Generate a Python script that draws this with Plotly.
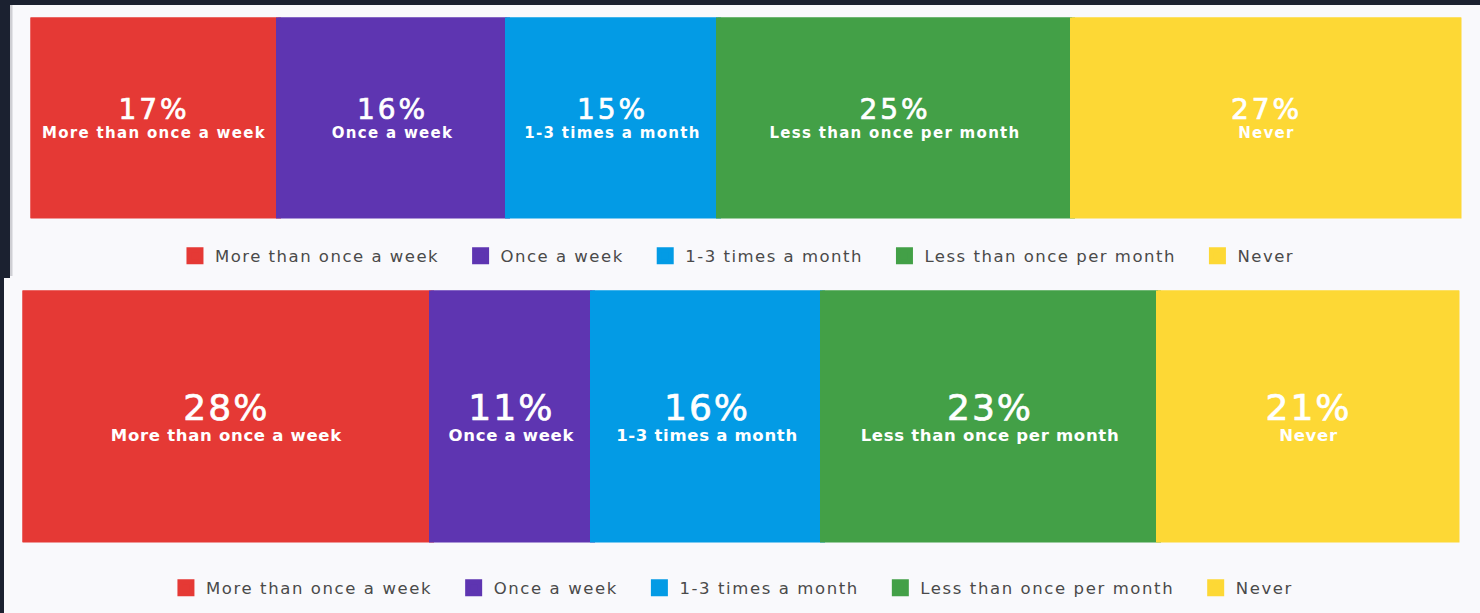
import plotly.graph_objects as go

categories = ["More than once a week", "Once a week", "1-3 times a month",
              "Less than once per month", "Never"]
top_values = [17.3, 16.0, 14.8, 24.7, 27.2]
bottom_values = [28.4, 11.2, 16.0, 23.4, 20.9]
colors = ["#e53935", "#5e35b1", "#039be5", "#43a047", "#fdd835"]

W, H = 1480, 613
FONT = "DejaVu Sans, Verdana, sans-serif"


def bar_text(pct_size, pct_ls, lab_ls):
    return (f"<span style='font-size:{pct_size}px;font-weight:normal;letter-spacing:{pct_ls}px;"
            "stroke:white;stroke-width:0.7px'>"
            "%{x:.0f}%</span><br>"
            f"<span style='letter-spacing:{lab_ls}px'>%{{customdata}}</span>")


def legend_name(cat, ls):
    return f"<span style='letter-spacing:{ls}px'>{cat}</span>\u2003"


fig = go.Figure()

for i, cat in enumerate(categories):
    fig.add_trace(go.Bar(
        y=[""], x=[top_values[i]], orientation="h", name=legend_name(cat, 1.5),
        marker=dict(color=colors[i], line=dict(color=colors[i], width=5)),
        customdata=[cat],
        texttemplate=bar_text(28, 3, 1.3),
        textposition="inside", insidetextanchor="middle",
        textfont=dict(color="white", size=15, family=FONT, weight="bold"),
        xaxis="x", yaxis="y", legend="legend", hoverinfo="skip",
    ))

for i, cat in enumerate(categories):
    fig.add_trace(go.Bar(
        y=[""], x=[bottom_values[i]], orientation="h", name=legend_name(cat, 1.6),
        marker=dict(color=colors[i], line=dict(color=colors[i], width=5)),
        customdata=[cat],
        texttemplate=bar_text(36, 2, 0.7),
        textposition="inside", insidetextanchor="middle",
        textfont=dict(color="white", size=16.5, family=FONT, weight="bold"),
        xaxis="x2", yaxis="y2", legend="legend2", hoverinfo="skip",
    ))


def px_x(p):
    return p / W


def px_y(p):
    return (H - p) / H


pad = 2.5
fig.update_layout(
    width=W, height=H,
    margin=dict(l=0, r=0, t=0, b=0),
    paper_bgcolor="#1b2130",
    plot_bgcolor="rgba(0,0,0,0)",
    barmode="stack",
    bargap=0,
    xaxis=dict(domain=[px_x(28 + pad), px_x(1464 - pad)], range=[0, sum(top_values)],
               visible=False, fixedrange=True),
    yaxis=dict(domain=[px_y(221 - pad), px_y(15 + pad)], range=[-0.5, 0.5],
               visible=False, fixedrange=True),
    xaxis2=dict(domain=[px_x(20 + pad), px_x(1462 - pad)], range=[0, sum(bottom_values)],
                visible=False, fixedrange=True, anchor="y2"),
    yaxis2=dict(domain=[px_y(545 - pad), px_y(288 + pad)], range=[-0.5, 0.5],
                visible=False, fixedrange=True, anchor="x2"),
    legend=dict(orientation="h", x=0.5037, xanchor="center", y=px_y(256), yanchor="middle",
                font=dict(size=16.5, color="#4a4a4a", family=FONT), bgcolor="rgba(0,0,0,0)",
                traceorder="normal"),
    legend2=dict(orientation="h", x=0.5003, xanchor="center", y=px_y(588), yanchor="middle",
                 font=dict(size=16.5, color="#4a4a4a", family=FONT), bgcolor="rgba(0,0,0,0)",
                 traceorder="normal"),
    shapes=[
        dict(type="rect", xref="paper", yref="paper", layer="below",
             x0=px_x(10), x1=1, y0=px_y(278), y1=px_y(5),
             fillcolor="#f9f9fc", line=dict(width=0)),
        dict(type="rect", xref="paper", yref="paper", layer="below",
             x0=px_x(10), x1=px_x(12.5), y0=px_y(276), y1=px_y(5),
             fillcolor="#cfcfd4", line=dict(width=0)),
        dict(type="rect", xref="paper", yref="paper", layer="below",
             x0=px_x(4), x1=1, y0=0, y1=px_y(278),
             fillcolor="#f9f9fc", line=dict(width=0)),
    ],
    showlegend=True,
)

fig.write_html("out.html", config={"displayModeBar": False},
               post_script="document.body.style.margin='0';document.body.style.overflow='hidden';")
